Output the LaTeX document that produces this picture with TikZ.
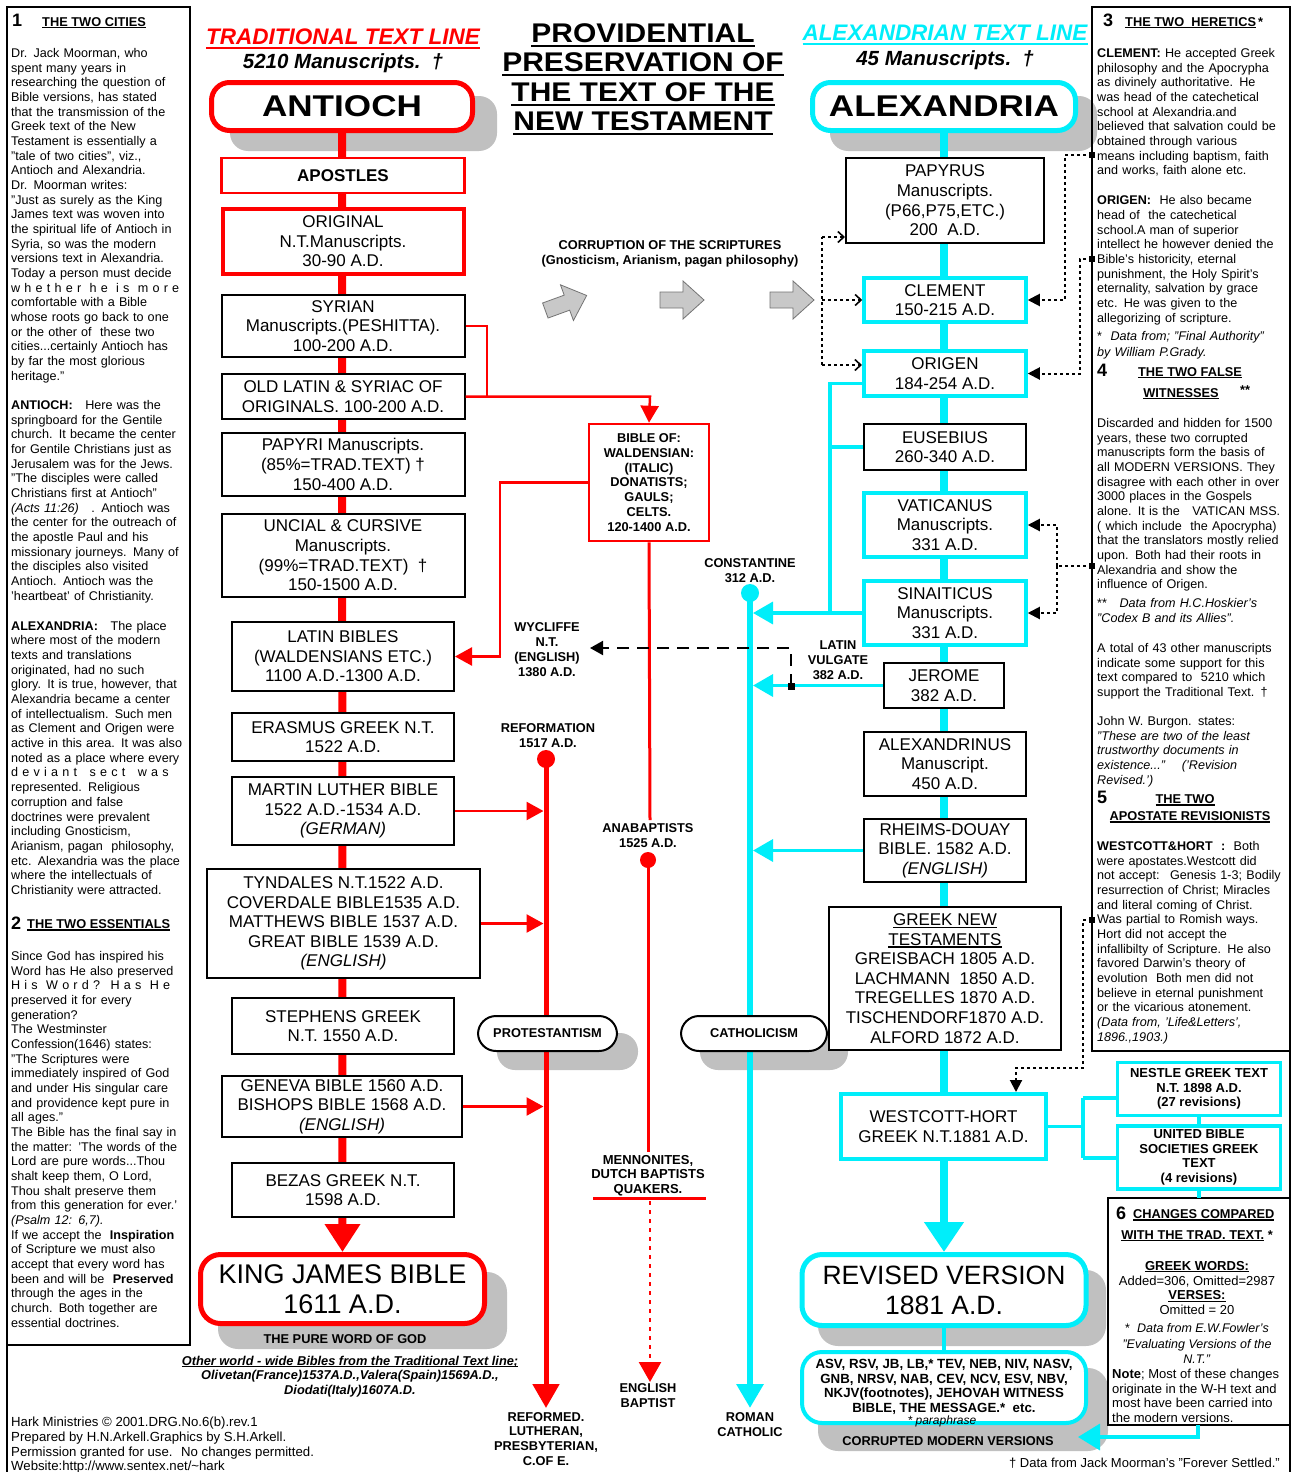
\documentclass[tikz,border=0pt]{standalone}
\usepackage{fontspec}
\setmainfont{Liberation Sans}
\usepackage{graphicx}
\usetikzlibrary{arrows.meta}
\definecolor{rd}{RGB}{255,0,0}
\definecolor{cy}{RGB}{0,238,250}
\definecolor{shd}{RGB}{192,192,192}
\definecolor{garw}{RGB}{200,200,200}
\newsavebox\ulbox
\newcommand\ul[1]{\sbox\ulbox{#1}\rlap{\rule[-0.16em]{\wd\ulbox}{0.085em}}\usebox\ulbox}
\def\colw{176pt}
\newcommand\fl[1]{\makebox[\colw][s]{#1}}
\newcommand\colf{\fontsize{12.6}{14.67}\selectfont\hyphenpenalty=10000\exhyphenpenalty=10000}
\newcommand\boxf{\fontsize{17}{19.6}\selectfont}
\newcommand\labf{\fontsize{12.8}{14.9}\selectfont\bfseries}
\newcommand\garrow[3]{\begin{scope}[shift={(#1,#2)},rotate=#3]
 \draw[fill=garw,draw=black!55,line width=0.8pt,line join=miter] (-22,-8) -- (1,-8) -- (1,-19) -- (22,0) -- (1,19) -- (1,8) -- (-22,8) -- cycle;
\end{scope}}
\pgfdeclarelayer{shadow}
\pgfdeclarelayer{bg}
\pgfsetlayers{shadow,bg,main}
\tikzset{
 redbox/.style={draw=rd,line width=2.5pt,fill=white,inner sep=0pt,align=center,font=\boxf},
 blkbox/.style={draw=black,line width=2pt,fill=white,inner sep=0pt,align=center,font=\boxf},
 cybox/.style={draw=cy,line width=3.5pt,fill=white,inner sep=0pt,align=center,font=\boxf},
 pill/.style={draw=black,line width=2pt,fill=white,rounded corners=18pt,inner sep=0pt,font=\labf},
 lab/.style={align=center,font=\labf,inner sep=0pt},
 ltext/.style={anchor=north west,text width=176pt,align=left,inner sep=0pt,font=\colf,execute at begin node={\def\colw{176pt}}},
 rtext/.style={anchor=north west,text width=191pt,align=left,inner sep=0pt,font=\colf,execute at begin node={\def\colw{191pt}}},
 redln/.style={draw=rd,line width=2.5pt},
 cyln/.style={draw=cy,line width=3.5pt},
 dotln/.style={draw=black,line width=2pt,dash pattern=on 3pt off 3pt},
 sq/.style={fill=black,minimum size=6pt,inner sep=0pt},
 rtip/.tip={Triangle[length=17pt,width=18pt]},
 ctip/.tip={Triangle[length=20pt,width=22pt]},
 btip/.tip={Triangle[length=12pt,width=12pt]},
 otip/.tip={Straight Barb[length=6pt,width=11pt,line width=1.6pt]},
}
\begin{document}
\begin{tikzpicture}[x=1pt,y=-1pt]
\useasboundingbox (0,0) rectangle (1294,1472);
\begin{pgfonlayer}{shadow}
\fill[white] (0,0) rectangle (1294,1472);
\fill[shd,rounded corners=18pt] (230,96) rectangle (497,151);
\fill[shd,rounded corners=18pt] (830,96) rectangle (1097,151);
\fill[shd,rounded corners=20pt] (218,1272) rectangle (507,1349);
\fill[shd,rounded corners=20pt] (818,1270) rectangle (1106,1346);
\fill[shd,rounded corners=20pt] (818,1368) rectangle (1108,1451);
\fill[shd,rounded corners=18pt] (497,1033) rectangle (638,1070);
\fill[shd,rounded corners=18pt] (700,1033) rectangle (848,1070);
\end{pgfonlayer}
% ---------- frames
\draw[line width=2pt] (7,7) rectangle (190,1345);
\draw[line width=2pt] (7,1345) -- (7,1472);
\draw[line width=2pt] (1092,7) rectangle (1290,1051);
\draw[line width=2pt] (1290,1051) -- (1290,1472);
\draw[line width=1.5pt] (1108,1198) rectangle (1290,1425);
% ---------- title
\node[anchor=base,font=\fontsize{27}{27}\selectfont\bfseries,inner sep=0] (t1) at (643,42.7) {\ul{\scalebox{1.11}[1]{PROVIDENTIAL}}};
\node[anchor=base,font=\fontsize{27}{27}\selectfont\bfseries,inner sep=0] (t2) at (643,71.7) {\ul{\scalebox{1.11}[1]{PRESERVATION OF}}};
\node[anchor=base,font=\fontsize{27}{27}\selectfont\bfseries,inner sep=0] (t3) at (643,101.7) {\ul{\scalebox{1.11}[1]{THE TEXT OF THE}}};
\node[anchor=base,font=\fontsize{27}{27}\selectfont\bfseries,inner sep=0] (t4) at (643,130.7) {\ul{\scalebox{1.11}[1]{NEW TESTAMENT}}};
\node[anchor=base,font=\fontsize{22.5}{24}\selectfont\bfseries\itshape,text=rd,inner sep=0] (tradl) at (343,45) {\ul{TRADITIONAL TEXT LINE}};
\node[anchor=base,font=\fontsize{20.5}{24}\selectfont\bfseries\itshape,inner sep=0] (tradn) at (343,68.5) {5210 Manuscripts. \,†};
\node[anchor=base,font=\fontsize{22.5}{24}\selectfont\bfseries\itshape,text=cy,inner sep=0] (alexl) at (945,41) {\ul{ALEXANDRIAN TEXT LINE}};
\node[anchor=base,font=\fontsize{20.5}{24}\selectfont\bfseries\itshape,inner sep=0] (alexn) at (945,65.5) {45 Manuscripts. \,†};
% ---------- big top boxes
\node[draw=rd,line width=5pt,fill=white,rounded corners=18pt,minimum width=261pt,minimum height=48pt,inner sep=0,font=\fontsize{30}{30}\selectfont\bfseries] (antioch) at (342,106.5) {\scalebox{1.17}[1]{ANTIOCH}};
\node[draw=cy,line width=5pt,fill=white,rounded corners=18pt,minimum width=263pt,minimum height=48pt,inner sep=0,font=\fontsize{30}{30}\selectfont\bfseries] (alex) at (944,106.5) {\scalebox{1.17}[1]{ALEXANDRIA}};
% ---------- left spine boxes
\node[redbox,minimum width=243pt,minimum height=35pt] (apost) at (343,175.5) {\bfseries APOSTLES};
\node[redbox,line width=4pt,minimum width=241pt,minimum height=65pt] (orig0) at (343,241.5) {ORIGINAL\\N.T.Manuscripts.\\30-90 A.D.};
\node[blkbox,minimum width=243pt,minimum height=62pt] (syr) at (343,326) {SYRIAN\\Manuscripts.(PESHITTA).\\100-200 A.D.};
\node[blkbox,minimum width=243pt,minimum height=45pt] (oldlat) at (343,396.5) {OLD LATIN \& SYRIAC OF\\ORIGINALS. 100-200 A.D.};
\node[blkbox,minimum width=243pt,minimum height=63pt] (papyri) at (343,464.5) {PAPYRI Manuscripts.\\(85\%=TRAD.TEXT) †\\150-400 A.D.};
\node[blkbox,minimum width=243pt,minimum height=83pt] (uncial) at (343,555.5) {UNCIAL \& CURSIVE\\Manuscripts.\\(99\%=TRAD.TEXT) \ †\\150-1500 A.D.};
\node[blkbox,minimum width=222pt,minimum height=69pt] (latin) at (343,656.5) {LATIN BIBLES\\(WALDENSIANS ETC.)\\1100 A.D.-1300 A.D.};
\node[blkbox,minimum width=222pt,minimum height=48pt] (erasmus) at (343,737) {ERASMUS GREEK N.T.\\1522 A.D.};
\node[blkbox,minimum width=222pt,minimum height=68pt] (luther) at (343,811) {MARTIN LUTHER BIBLE\\1522 A.D.-1534 A.D.\\\textit{(GERMAN)}};
\node[blkbox,minimum width=273pt,minimum height=109pt] (tynd) at (343.5,923.5) {TYNDALES N.T.1522 A.D.\\COVERDALE BIBLE1535 A.D.\\MATTHEWS BIBLE 1537 A.D.\\GREAT BIBLE 1539 A.D.\\\textit{(ENGLISH)}};
\node[blkbox,minimum width=222pt,minimum height=56pt] (steph) at (343,1026) {STEPHENS GREEK\\N.T. 1550 A.D.};
\node[blkbox,minimum width=240pt,minimum height=61pt] (geneva) at (342,1106.5) {GENEVA BIBLE 1560 A.D.\\BISHOPS BIBLE 1568 A.D.\\\textit{(ENGLISH)}};
\node[blkbox,minimum width=222pt,minimum height=54pt] (bezas) at (343,1190) {BEZAS GREEK N.T.\\1598 A.D.};
\node[draw=rd,line width=5pt,fill=white,rounded corners=20pt,minimum width=284pt,minimum height=69pt,inner sep=0,align=center,font=\fontsize{27}{30}\selectfont] (kjv) at (342.5,1289) {KING JAMES BIBLE\\1611 A.D.};
\node[lab] (pure) at (345,1339) {THE PURE WORD OF GOD};
% ---------- right spine boxes
\node[blkbox,minimum width=198pt,minimum height=85pt] (pap) at (945,200.5) {PAPYRUS\\Manuscripts.\\(P66,P75,ETC.)\\200 \ A.D.};
\node[cybox,minimum width=162pt,minimum height=44pt] (clem) at (945,300) {CLEMENT\\150-215 A.D.};
\node[cybox,minimum width=162pt,minimum height=45pt] (orig) at (945,373.5) {ORIGEN\\184-254 A.D.};
\node[blkbox,minimum width=162pt,minimum height=46pt] (eus) at (945,447) {EUSEBIUS\\260-340 A.D.};
\node[cybox,minimum width=162pt,minimum height=64pt] (vat) at (945,525) {VATICANUS\\Manuscripts.\\331 A.D.};
\node[cybox,minimum width=162pt,minimum height=64pt] (sin) at (945,613) {SINAITICUS\\Manuscripts.\\331 A.D.};
\node[blkbox,minimum width=120pt,minimum height=45pt] (jer) at (944,685.5) {JEROME\\382 A.D.};
\node[blkbox,minimum width=162pt,minimum height=64pt] (alxn) at (945,764) {ALEXANDRINUS\\Manuscript.\\450 A.D.};
\node[blkbox,minimum width=162pt,minimum height=63pt] (rheims) at (945,850.5) {RHEIMS-DOUAY\\BIBLE. 1582 A.D.\\\textit{(ENGLISH)}};
\node[blkbox,minimum width=232pt,minimum height=143pt] (gnt) at (945,978.5) {\ul{GREEK NEW}\\\ul{TESTAMENTS}\\GREISBACH 1805 A.D.\\LACHMANN \ 1850 A.D.\\TREGELLES 1870 A.D.\\TISCHENDORF1870 A.D.\\ALFORD 1872 A.D.};
\node[cybox,minimum width=205pt,minimum height=65pt] (wh) at (943.5,1126.5) {WESTCOTT-HORT\\GREEK N.T.1881 A.D.};
\node[cybox,minimum width=163pt,minimum height=53pt,font=\fontsize{13}{14.5}\selectfont\bfseries] (nestle) at (1199,1089) {NESTLE GREEK TEXT\\N.T. 1898 A.D.\\(27 revisions)};
\node[cybox,minimum width=163pt,minimum height=63pt,font=\fontsize{13}{14.6}\selectfont\bfseries] (ubs) at (1199,1157.5) {UNITED BIBLE\\SOCIETIES GREEK\\TEXT\\(4 revisions)};
\node[draw=cy,line width=5pt,fill=white,rounded corners=20pt,minimum width=284pt,minimum height=71pt,inner sep=0,align=center,font=\fontsize{26.5}{30}\selectfont] (rv) at (944,1290) {REVISED VERSION\\1881 A.D.};
\node[draw=cy,line width=4pt,fill=white,rounded corners=20pt,minimum width=284pt,minimum height=71pt,inner sep=0] (cmv) at (944,1387.5) {};
\node[lab,font=\fontsize{13.3}{14.6}\selectfont\bfseries] (cmvt) at (944,1387) {ASV, RSV, JB, LB,* TEV, NEB, NIV, NASV,\\GNB, NRSV, NAB, CEV, NCV, ESV, NBV,\\NKJV(footnotes), JEHOVAH WITNESS\\BIBLE, THE MESSAGE.* \ etc.};
\node[inner sep=0,font=\fontsize{12}{12}\selectfont\itshape] (para) at (942,1421) {* paraphrase};
\node[lab] (cmvl) at (948,1441) {CORRUPTED MODERN VERSIONS};
% ---------- middle boxes and labels
\node[redbox,minimum width=120pt,minimum height=117pt,font=\labf] (bib) at (649,482.5) {BIBLE OF:\\WALDENSIAN:\\(ITALIC)\\DONATISTS;\\GAULS;\\CELTS.\\120-1400 A.D.};
\node[lab] (corr) at (670,253.5) {CORRUPTION OF THE SCRIPTURES\\(Gnosticism, Arianism, pagan philosophy)};
\node[lab] (reft) at (548,735.5) {REFORMATION\\1517 A.D.};
\node[lab] (anat) at (648,835.5) {ANABAPTISTS\\1525 A.D.};
\node[lab] (cont) at (750,570.5) {CONSTANTINE\\312 A.D.};
\node[lab] (wyc) at (547,649.5) {WYCLIFFE\\N.T.\\(ENGLISH)\\1380 A.D.};
\node[lab] (vulg) at (838,660) {LATIN\\VULGATE\\382 A.D.};
\node[lab,font=\fontsize{13}{14.6}\selectfont\bfseries] (menn) at (648,1175.5) {MENNONITES,\\DUTCH BAPTISTS\\QUAKERS.};
\node[lab] (engb) at (648,1395.5) {ENGLISH\\BAPTIST};
\node[lab] (refd) at (546,1439) {REFORMED.\\LUTHERAN,\\PRESBYTERIAN,\\C.OF E.};
\node[lab] (romc) at (750,1424.5) {ROMAN\\CATHOLIC};
\node[pill,minimum width=139pt,minimum height=35pt] (prot) at (547.5,1033.5) {PROTESTANTISM};
\node[pill,minimum width=146pt,minimum height=35pt] (cath) at (754,1033.5) {CATHOLICISM};
\node[circle,fill=rd,minimum size=18pt,inner sep=0] (refdot) at (546,759) {};
\node[circle,fill=rd,minimum size=16pt,inner sep=0] (anadot) at (648,860) {};
\node[circle,fill=cy,minimum size=18pt,inner sep=0] (condot) at (750,593) {};
\coordinate (refend) at (546,1408);
\coordinate (conend) at (750,1408);
\coordinate (engend) at (650,1382);
% ---------- lines behind boxes
\begin{pgfonlayer}{bg}
\draw[rd,line width=8pt,-{Triangle[length=28pt,width=34pt]}] (antioch.south) -- (kjv.north);
\draw[cy,line width=8pt,-{Triangle[length=30pt,width=38pt]}] (alex.south) -- (rv.north);
\draw[cy,line width=4pt] (rv.south) -- (cmv.north);
\draw[rd,line width=5pt,-{Triangle[length=24pt,width=26pt]}] (refdot.center) -- (refend);
\draw[cy,line width=6pt,-{Triangle[length=24pt,width=26pt]}] (condot.center) -- (conend);
\draw[rd,line width=3pt] (bib.south) -- (650,820);
\draw[rd,line width=3pt] (anadot.center) -- (648,1152);
\end{pgfonlayer}
\draw[rd,line width=3pt] (593,1198) -- (706,1198);
\draw[rd,line width=2.5pt,dash pattern=on 4pt off 5pt,-{Triangle[length=20pt,width=22pt]}] (650,1201) -- (engend);
% ---------- red connectors
\draw[redln] (syr.east) -- (487,326) -- (487,396.5);
\draw[redln,-rtip] (oldlat.east) -- (650,396.5) -- (bib.north);
\draw[redln,-rtip] (bib.west) -- (500,482.5) |- (latin.east);
\draw[redln,-rtip] (luther.east) -- (543.5,811);
\draw[redln,-rtip] (tynd.east) -- (543.5,923.5);
\draw[redln,-rtip] (geneva.east) -- (543.5,1106.5);
% ---------- cyan connectors
\draw[cyln] (orig.west) ++(0,10) -- (830,383.5) -- (830,613);
\draw[cyln] (eus.west) -- (830,447);
\draw[cyln,-ctip] (sin.west) -- (753,613);
\draw[cyln,-ctip] (jer.west) -- (753,685.5);
\draw[cyln,-ctip] (rheims.west) -- (753,850.5);
\draw[cyln] (wh.east) -- (1083,1126.5);
\draw[cyln] (1083,1098) -- (1083,1158);
\draw[cyln] (1083,1098) -- (nestle.west |- 1083,1098);
\draw[cyln] (1083,1158) -- (ubs.west |- 1083,1158);
\draw[cyln] (nestle.south) -- (ubs.north);
\draw[cyln] (ubs.south) -- (1199,1198);
\draw[cyln,-{Triangle[length=22pt,width=26pt]}] (1198,1425) -- (1198,1437) -- (1078,1437);
% ---------- black dotted connectors
\node[sq] (sqA) at (1092,155) {};
\node[sq] (sqB) at (1092,259) {};
\node[sq] (sqC) at (1092,566) {};
\node[sq] (sqD) at (1092,920) {};
\node[sq,minimum size=7pt] (sqV) at (791,686) {};
\draw[dotln,-btip] (sqA.center) -- (1065,155) |- (clem.east);
\draw[dotln,-btip] (sqB.center) -- (1080,259) |- (orig.east);
\draw[dotln] (sqC.center) -- (1057,566);
\draw[dotln,-btip] (1057,566) |- (vat.east);
\draw[dotln,-btip] (1057,566) |- (sin.east);
\draw[dotln,-btip] (sqD.center) -- (1083,920) |- (1016,1068) -- (1016,1092);
\draw[dotln] (822,365) -- (822,237);
\draw[dotln,-otip] (822,237) -- (845,237);
\draw[dotln,-otip] (822,300) -- (clem.west);
\draw[dotln,-otip] (822,365) -- (862,365);
\draw[line width=2pt,dash pattern=on 12pt off 8pt,-{Triangle[length=13pt,width=14pt]}] (sqV.center) -- (791,648) -- (590,648);
% ---------- grey arrows
\garrow{566}{303}{20}
\garrow{682}{300}{0}
\garrow{792}{300}{0}
% ---------- left column text
\node[anchor=west,inner sep=0,font=\fontsize{18}{18}\selectfont\bfseries] (h1n) at (12,20) {1};
\node[anchor=west,inner sep=0,font=\fontsize{12.8}{14}\selectfont\bfseries] (h1) at (42,23) {\ul{THE TWO CITIES}};
\node[ltext] (lc1) at (11,48) {Dr. Jack Moorman, who\\
\fl{spent many years in}\\
researching the question of\\
Bible versions, has stated\\
that the transmission of the\\
\fl{Greek text of the New}\\
Testament is essentially a\\
"tale of two cities", viz.,\\
Antioch and Alexandria.\\
Dr. Moorman writes:\\
"Just as surely as the King\\
James text was woven into\\
the spiritual life of Antioch in\\
\fl{Syria, so was the modern}\\
versions text in Alexandria.\\
Today a person must decide\\
\fl{w h e t h e r \ h e \ i s \ m o r e}\\
comfortable with a Bible\\
whose roots go back to one\\
or the other of \ these two\\
cities...certainly Antioch has\\
by far the most glorious\\
heritage."\\[14.67pt]
\textbf{ANTIOCH:}\ \ \ Here was the\\
springboard for the Gentile\\
church. It became the center\\
for Gentile Christians just as\\
Jerusalem was for the Jews.\\
"The disciples were called\\
Christians first at Antioch"\\
\textit{(Acts 11:26)}\ \ \ . Antioch was\\
\fl{the center for the outreach of}\\
\fl{the apostle Paul and his}\\
missionary journeys. Many of\\
\fl{the disciples also visited}\\
Antioch. Antioch was the\\
'heartbeat' of Christianity.\\[15.5pt]
\textbf{ALEXANDRIA:}\ \ \ The place\\
where most of the modern\\
\fl{texts and translations}\\
originated, had no such\\
glory. It is true, however, that\\
Alexandria became a center\\
of intellectualism. Such men\\
as Clement and Origen were\\
active in this area. It was also\\
noted as a place where every\\
\fl{d e v i a n t \ \ s e c t \ \ w a s}\\
\fl{represented. Religious}\\
\fl{corruption and false}\\
\fl{doctrines were prevalent}\\
\fl{including Gnosticism,}\\
Arianism, pagan \ philosophy,\\
etc. Alexandria was the place\\
where the intellectuals of\\
Christianity were attracted.};
\node[anchor=west,inner sep=0,font=\fontsize{18}{18}\selectfont\bfseries] (h2n) at (11,923) {2};
\node[anchor=west,inner sep=0,font=\fontsize{12.8}{14}\selectfont\bfseries] (h2) at (27,925) {\ul{THE TWO ESSENTIALS}};
\node[ltext] (lc2) at (11,951) {Since God has inspired his\\
Word has He also preserved\\
\fl{H i s \ W o r d ? \ H a s \ H e}\\
\fl{preserved it for every}\\
generation?\\
The Westminster\\
Confession(1646) states:\\
\fl{"The Scriptures were}\\
immediately inspired of God\\
and under His singular care\\
and providence kept pure in\\
all ages."\\
The Bible has the final say in\\
the matter: 'The words of the\\
Lord are pure words...Thou\\
shalt keep them, O Lord,\\
\fl{Thou shalt preserve them}\\
from this generation for ever.'\\
\textit{(Psalm 12: 6,7).}\\
If we accept the \ \textbf{Inspiration}\\
of Scripture we must also\\
accept that every word has\\
been and will be \ \textbf{Preserved}\\
through the ages in the\\
church. Both together are\\
essential doctrines.};
% ---------- right column text
\node[anchor=west,inner sep=0,font=\fontsize{18}{18}\selectfont\bfseries] (h3n) at (1103,20) {3};
\node[anchor=west,inner sep=0,font=\fontsize{12.8}{14}\selectfont\bfseries] (h3) at (1125,23) {\ul{THE TWO \ HERETICS}\,*};
\node[rtext] (rc1) at (1097,48) {\textbf{CLEMENT:} He accepted Greek\\
philosophy and the Apocrypha\\
as divinely authoritative. He\\
was head of the catechetical\\
\fl{school at Alexandria.and}\\
believed that salvation could be\\
\fl{obtained through various}\\
means including baptism, faith\\
and works, faith alone etc.\\[15.5pt]
\fl{\textbf{ORIGEN:}\ \ He also became}\\
\fl{head of \ the catechetical}\\
\fl{school.A man of superior}\\
intellect he however denied the\\
Bible's historicity, eternal\\
punishment, the Holy Spirit's\\
eternality, salvation by grace\\
\fl{etc. He was given to the}\\
allegorizing of scripture.};
\node[rtext,font=\fontsize{12.6}{16}\selectfont] (rc2) at (1097,331) {* \ \textit{Data from; "Final Authority"}\\\textit{by William P.Grady.}};
\node[anchor=west,inner sep=0,font=\fontsize{18}{18}\selectfont\bfseries] (h4n) at (1097,370) {4};
\node[inner sep=0,font=\fontsize{12.8}{14}\selectfont\bfseries] (h4a) at (1190,373) {\ul{THE TWO FALSE}};
\node[inner sep=0,font=\fontsize{12.8}{14}\selectfont\bfseries] (h4b) at (1181,394) {\ul{WITNESSES}};
\node[inner sep=0,font=\fontsize{12.8}{14}\selectfont\bfseries] (h4c) at (1245,390) {**};
\node[rtext] (rc3) at (1097,418) {Discarded and hidden for 1500\\
\fl{years, these two corrupted}\\
manuscripts form the basis of\\
all MODERN VERSIONS. They\\
disagree with each other in over\\
\fl{3000 places in the Gospels}\\
alone. It is the \ \ VATICAN MSS.\\
( which include \ the Apocrypha)\\
that the translators mostly relied\\
upon. Both had their roots in\\
\fl{Alexandria and show the}\\
influence of Origen.\\[4.3pt]
** \ \ \textit{Data from H.C.Hoskier's}\\
\textit{"Codex B and its Allies".}};
\node[rtext] (rc4) at (1097,643) {A total of 43 other manuscripts\\
indicate some support for this\\
text compared to \ 5210 which\\
support the Traditional Text. †};
\node[rtext] (rc5) at (1097,716) {\fl{John W. Burgon. states:}\\
\textit{"These are two of the least}\\
\textit{trustworthy documents in}\\
\fl{\itshape existence..." \ \ \ ('Revision}\\
\textit{Revised.')}};
\node[anchor=west,inner sep=0,font=\fontsize{18}{18}\selectfont\bfseries] (h5n) at (1097,797) {5};
\node[inner sep=0,font=\fontsize{12.8}{14}\selectfont\bfseries] (h5a) at (1185,800) {\ul{THE TWO}};
\node[inner sep=0,font=\fontsize{12.8}{14}\selectfont\bfseries] (h5b) at (1190,817) {\ul{APOSTATE REVISIONISTS}};
\node[rtext] (rc6) at (1097,841) {\fl{\textbf{WESTCOTT\&HORT \ :} \ Both}\\
were apostates.Westcott did\\
not accept: \ Genesis 1-3; Bodily\\
resurrection of Christ; Miracles\\
\fl{and literal coming of Christ.}\\
Was partial to Romish ways.\\
\fl{Hort did not accept the}\\
infallibilty of Scripture. He also\\
\fl{favored Darwin's theory of}\\
\fl{evolution \ Both men did not}\\
believe in eternal punishment\\
or the vicarious atonement.\\
\textit{(Data from, 'Life\&Letters',}\\
\textit{1896.,1903.)}};
% ---------- box 6
\node[anchor=west,inner sep=0,font=\fontsize{18}{18}\selectfont\bfseries] (h6n) at (1116,1213) {6};
\node[anchor=west,inner sep=0,font=\fontsize{12.8}{14}\selectfont\bfseries] (h6a) at (1133,1215) {\ul{CHANGES COMPARED}};
\node[inner sep=0,font=\fontsize{12.8}{14}\selectfont\bfseries] (h6b) at (1197,1236) {\ul{WITH THE TRAD. TEXT.}\ *};
\node[align=center,inner sep=0,font=\fontsize{13}{14.8}\selectfont] (b6) at (1197,1288) {\textbf{\ul{GREEK WORDS:}}\\Added=306, Omitted=2987\\\textbf{\ul{VERSES:}}\\Omitted = 20};
\node[align=center,inner sep=0,font=\fontsize{12.5}{15.5}\selectfont] (b6b) at (1197,1343.5) {* \ \textit{Data from E.W.Fowler's}\\\textit{"Evaluating Versions of the}\\\textit{N.T."}};
\node[anchor=north west,align=left,inner sep=0,font=\fontsize{13}{14.67}\selectfont] (b6c) at (1112,1369) {\textbf{Note}; Most of these changes\\originate in the W-H text and\\most have been carried into\\the modern versions.};
% ---------- bottom text
\node[align=center,inner sep=0,font=\fontsize{12.8}{14.7}\selectfont\bfseries\itshape] (other) at (350,1376.5) {\ul{Other world - wide Bibles from the Traditional Text line;}\\Olivetan(France)1537A.D.,Valera(Spain)1569A.D.,\\Diodati(Italy)1607A.D.};
\node[anchor=north west,align=left,inner sep=0,font=\fontsize{13.2}{14.67}\selectfont] (hark) at (11,1417) {Hark Ministries © 2001.DRG.No.6(b).rev.1\\Prepared by H.N.Arkell.Graphics by S.H.Arkell.\\Permission granted for use. \ No changes permitted.\\Website:http://www.sentex.net/\textasciitilde hark};
\node[anchor=east,inner sep=0,font=\fontsize{13}{14}\selectfont] (foot) at (1280,1463) {† Data from Jack Moorman's "Forever Settled."};
\end{tikzpicture}
\end{document}
